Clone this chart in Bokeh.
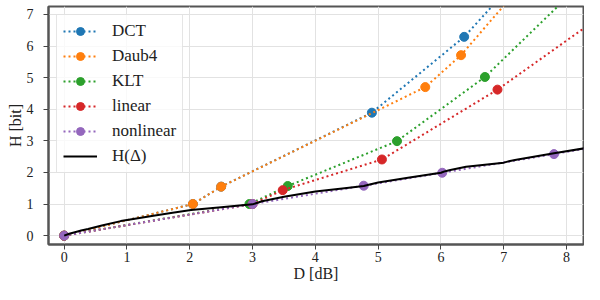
from bokeh.plotting import figure
from bokeh.models import Range1d, SingleIntervalTicker, Legend, LegendItem
from bokeh.embed import file_html
from bokeh.resources import INLINE

# ---- data ----
dct_x = [0, 2.05, 2.5, 4.9, 6.37, 7.2]
dct_y = [0, 1.0, 1.55, 3.89, 6.29, 8.1]

daub_x = [0, 2.05, 2.5, 5.75, 6.32, 7.4]
daub_y = [0, 1.0, 1.55, 4.7, 5.71, 8.2]

klt_x = [0, 2.95, 3.56, 5.3, 6.7, 8.3]
klt_y = [0, 1.0, 1.57, 2.99, 5.02, 8.1]

lin_x = [0, 3.0, 3.48, 5.06, 6.9, 8.8]
lin_y = [0, 1.0, 1.44, 2.41, 4.62, 7.3]

nonlin_x = [0, 3.0, 4.77, 6.02, 7.8, 8.6]
nonlin_y = [0, 1.0, 1.58, 1.99, 2.58, 2.86]

h_x = [0, 0.08, 0.17, 0.27, 0.38, 0.6, 0.9, 1.2, 1.42, 1.7, 2.02, 2.5, 3.0, 3.08,
       3.15, 3.5, 4.0, 4.5, 4.77, 4.85, 5.0, 5.5, 6.0, 6.07, 6.15, 6.4, 7.0, 7.1,
       7.2, 7.8, 8.4]
h_y = [0, 0.06, 0.11, 0.16, 0.21, 0.32, 0.46, 0.56, 0.63, 0.72, 0.81, 0.9, 0.99,
       1.04, 1.09, 1.23, 1.4, 1.51, 1.57, 1.61, 1.68, 1.84, 1.99, 2.04, 2.08, 2.18,
       2.31, 2.36, 2.4, 2.61, 2.8]

series_names = ["DCT", "Daub4", "KLT", "linear", "nonlinear"]
series_colors = ["#1f77b4", "#ff7f0e", "#2ca02c", "#d62728", "#9467bd"]
series_x = [dct_x, daub_x, klt_x, lin_x, nonlin_x]
series_y = [dct_y, daub_y, klt_y, lin_y, nonlin_y]
h_label = "H(Δ)"

x_title = "D [dB]"
y_title = "H [bit]"

FONT = "Liberation Serif, DejaVu Serif, serif"
TXT = "#222222"
FRAME = "#555555"

p = figure(width=584, height=284, output_backend="svg", toolbar_location=None,
           x_range=Range1d(-0.25, 8.27), y_range=Range1d(-0.28, 7.25),
           min_border_left=48, min_border_right=1, min_border_top=6,
           min_border_bottom=0, background_fill_color="white",
           border_fill_color="white")

p.xaxis.ticker = SingleIntervalTicker(interval=1, num_minor_ticks=0)
p.yaxis.ticker = SingleIntervalTicker(interval=1, num_minor_ticks=0)
p.axis.minor_tick_line_color = None
p.axis.major_tick_in = 0
p.axis.major_tick_out = 5
p.axis.major_tick_line_color = "#444444"
p.axis.major_tick_line_width = 1
p.axis.axis_line_color = FRAME
p.axis.axis_line_width = 2
p.axis.major_label_text_font = FONT
p.axis.major_label_text_font_size = "14px"
p.axis.major_label_text_color = TXT
p.xaxis.major_label_standoff = 2
p.yaxis.major_label_standoff = 10
p.axis.axis_label_text_font = FONT
p.axis.axis_label_text_font_size = "16px"
p.axis.axis_label_text_font_style = "normal"
p.axis.axis_label_text_color = TXT
p.axis.axis_label_standoff = 0
p.xaxis.axis_label = x_title
p.yaxis.axis_label = y_title
p.outline_line_color = FRAME
p.outline_line_width = 2
p.outline_line_alpha = 1
p.grid.grid_line_color = "#e2e2e2"
p.grid.grid_line_width = 1

items = []
for name, col, xs, ys in zip(series_names, series_colors, series_x, series_y):
    ln = p.line(xs, ys, line_color=col, line_width=2, line_dash="2 3")
    sc = p.scatter(xs, ys, size=9, fill_color=col, line_color=col)
    items.append(LegendItem(label=name, renderers=[ln, sc]))

hl = p.line(h_x, h_y, line_color="black", line_width=2)
items.append(LegendItem(label=h_label, renderers=[hl]))

legend = Legend(items=items, location="top_left", glyph_width=34, glyph_height=20,
                label_height=20, label_standoff=15, spacing=5, padding=6, margin=8,
                label_text_font=FONT, label_text_font_size="17px",
                label_text_color=TXT, border_line_color="#cccccc",
                border_line_width=1, background_fill_alpha=0.8)
p.add_layout(legend)

open("out.html", "w").write(file_html(p, INLINE))
